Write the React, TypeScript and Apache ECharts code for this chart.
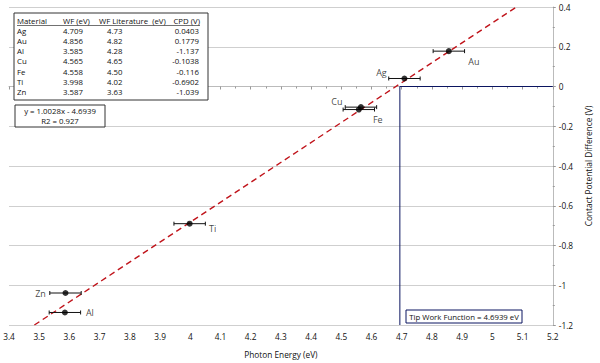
import React, { useEffect, useRef } from "react";
import * as echarts from "echarts";

const materials = ["Ag", "Au", "Al", "Cu", "Fe", "Ti", "Zn"];
const wf = [4.709, 4.856, 3.585, 4.565, 4.558, 3.998, 3.587];
const wfText = ["4.709", "4.856", "3.585", "4.565", "4.558", "3.998", "3.587"];
const wfLit = ["4.73", "4.82", "4.28", "4.65", "4.50", "4.02", "3.63"];
const cpd = [0.0403, 0.1779, -1.137, -0.1038, -0.116, -0.6902, -1.039];
const cpdText = ["0.0403", "0.1779", "-1.137", "-0.1038", "-0.116", "-0.6902", "-1.039"];
const xErr = 0.052;
const labelOffsets: number[][] = [
  [-23, -6],
  [25, 10],
  [25, 0],
  [-24, -6],
  [19, 10],
  [23, 5],
  [-25, 0],
];
const slope = 1.0028;
const intercept = -4.6939;
const trendX = [3.484, 5.08];
const tipWF = 4.6939;
const xTicks = { min: 3.4, max: 5.2, interval: 0.1 };
const yTicks = { min: -1.2, max: 0.4, interval: 0.2 };

const FONT = "Open Sans";
const TXT = "#111";
const FS = 8.3;
const FB = 7.8;

export default function App() {
  const ref = useRef<HTMLDivElement>(null);
  useEffect(() => {
    const chart = echarts.init(ref.current!, undefined, { renderer: "svg" });
    const pts = materials.map((m, i) => ({
      value: [wf[i], cpd[i]],
      label: {
        show: true,
        formatter: m,
        position: "inside",
        offset: labelOffsets[i],
        color: TXT,
        textBorderWidth: 0,
        fontSize: 9,
        fontFamily: FONT,
      },
    }));

    const tableTop = 20.5;
    const rowH = 10.2;
    const tableTexts: any[] = [];
    const header = [
      { t: "Material", x: 17, align: "left" },
      { t: "WF (eV)", x: 63, align: "left" },
      { t: "WF Literature  (eV)", x: 99, align: "left" },
      { t: "CPD (V)", x: 200, align: "right" },
    ];
    header.forEach((h) =>
      tableTexts.push({
        type: "text",
        x: h.x,
        y: tableTop,
        style: { text: h.t, fill: TXT, fontSize: FB, fontFamily: FONT, align: h.align, verticalAlign: "middle" },
      })
    );
    tableTexts.push({
      type: "line",
      shape: { x1: 17, y1: tableTop + 5, x2: 200, y2: tableTop + 5 },
      style: { stroke: "#333", lineWidth: 0.7 },
    });
    materials.forEach((m, i) => {
      const y = tableTop + (i + 1) * rowH;
      const cells = [
        { t: m, x: 17, align: "left" },
        { t: wfText[i], x: 63, align: "left" },
        { t: wfLit[i], x: 107, align: "left" },
        { t: cpdText[i], x: 199, align: "right" },
      ];
      cells.forEach((c) =>
        tableTexts.push({
          type: "text",
          x: c.x,
          y,
          style: { text: c.t, fill: TXT, fontSize: FB, fontFamily: FONT, align: c.align, verticalAlign: "middle" },
        })
      );
    });

    chart.setOption({
      animation: false,
      backgroundColor: "#fff",
      grid: { left: 9, right: 37, top: 7, bottom: 36 },
      xAxis: {
        type: "value",
        min: xTicks.min,
        max: xTicks.max,
        interval: xTicks.interval,
        name: "Photon Energy (eV)",
        nameLocation: "middle",
        nameGap: 25,
        nameTextStyle: { fontSize: FS, fontFamily: FONT, color: TXT },
        axisLine: { show: true, lineStyle: { color: "#bbb" } },
        axisTick: { show: true, length: 3, lineStyle: { color: "#999" } },
        minorTick: { show: true, splitNumber: 2, length: 2, lineStyle: { color: "#999" } },
        axisLabel: {
          fontSize: FS,
          fontFamily: FONT,
          color: TXT,
          margin: 7,
          formatter: (v: number) => String(Math.round(v * 10) / 10),
        },
        splitLine: { show: false },
      },
      yAxis: {
        type: "value",
        position: "right",
        min: yTicks.min,
        max: yTicks.max,
        interval: yTicks.interval,
        name: "Contact Potential Difference (V)",
        nameLocation: "middle",
        nameGap: 27,
        nameRotate: 90,
        nameTextStyle: { fontSize: FS, fontFamily: FONT, color: TXT },
        axisLine: { show: true, lineStyle: { color: "#bbb" } },
        axisTick: { show: true, inside: false, length: 3, lineStyle: { color: "#999" } },
        minorTick: { show: true, splitNumber: 2, length: 2, lineStyle: { color: "#999" } },
        axisLabel: {
          fontSize: FS,
          fontFamily: FONT,
          color: TXT,
          margin: 6,
          formatter: (v: number) => String(Math.round(v * 10) / 10),
        },
        splitLine: { show: true, lineStyle: { color: "#cfcfcf", width: 1 } },
      },
      series: [
        {
          type: "line",
          data: trendX.map((x) => [x, slope * x + intercept]),
          symbol: "none",
          lineStyle: { color: "#c0141b", width: 1.4, type: [6, 4] },
          z: 3,
        },
        {
          type: "line",
          data: [
            [tipWF, yTicks.min],
            [tipWF, 0],
            [xTicks.max, 0],
          ],
          symbol: "none",
          lineStyle: { color: "#0b1560", width: 1 },
          z: 2,
        },
        {
          type: "custom",
          data: materials.map((m, i) => [wf[i], cpd[i]]),
          renderItem: (params: any, api: any) => {
            const x = api.value(0);
            const y = api.value(1);
            const a = api.coord([x - xErr, y]);
            const b = api.coord([x + xErr, y]);
            const s = { stroke: "#111", lineWidth: 1 };
            return {
              type: "group",
              children: [
                { type: "line", shape: { x1: a[0], y1: a[1], x2: b[0], y2: b[1] }, style: s },
                { type: "line", shape: { x1: a[0], y1: a[1] - 2, x2: a[0], y2: a[1] + 2 }, style: s },
                { type: "line", shape: { x1: b[0], y1: b[1] - 2, x2: b[0], y2: b[1] + 2 }, style: s },
              ],
            };
          },
          z: 4,
        },
        {
          type: "scatter",
          data: pts,
          symbol: "circle",
          symbolSize: 6,
          itemStyle: { color: "#000" },
          z: 5,
        },
      ],
      graphic: [
        {
          type: "rect",
          shape: { x: 14, y: 13, width: 194, height: 87 },
          style: { fill: "#fff", stroke: "#333", lineWidth: 1 },
          z: 10,
        },
        ...tableTexts.map((t) => ({ ...t, z: 11 })),
        {
          type: "rect",
          shape: { x: 15, y: 105, width: 90, height: 22 },
          style: { fill: "#fff", stroke: "#333", lineWidth: 1 },
          z: 10,
        },
        {
          type: "text",
          x: 60,
          y: 111,
          style: { text: "y = 1.0028x - 4.6939", fill: TXT, fontSize: FB, fontFamily: FONT, align: "center", verticalAlign: "middle" },
          z: 11,
        },
        {
          type: "text",
          x: 60,
          y: 121,
          style: { text: "R2 = 0.927", fill: TXT, fontSize: FB, fontFamily: FONT, align: "center", verticalAlign: "middle" },
          z: 11,
        },
        {
          type: "rect",
          shape: { x: 406, y: 310, width: 116, height: 13 },
          style: { fill: "#fff", stroke: "#0b1560", lineWidth: 1 },
          z: 10,
        },
        {
          type: "text",
          x: 464,
          y: 316.5,
          style: { text: "Tip Work Function = 4.6939 eV", fill: TXT, fontSize: FB, fontFamily: FONT, align: "center", verticalAlign: "middle" },
          z: 11,
        },
      ],
    });
    return () => chart.dispose();
  }, []);
  return <div ref={ref} style={{ width: 600, height: 363, position: "absolute", left: 0, top: 0 }} />;
}
